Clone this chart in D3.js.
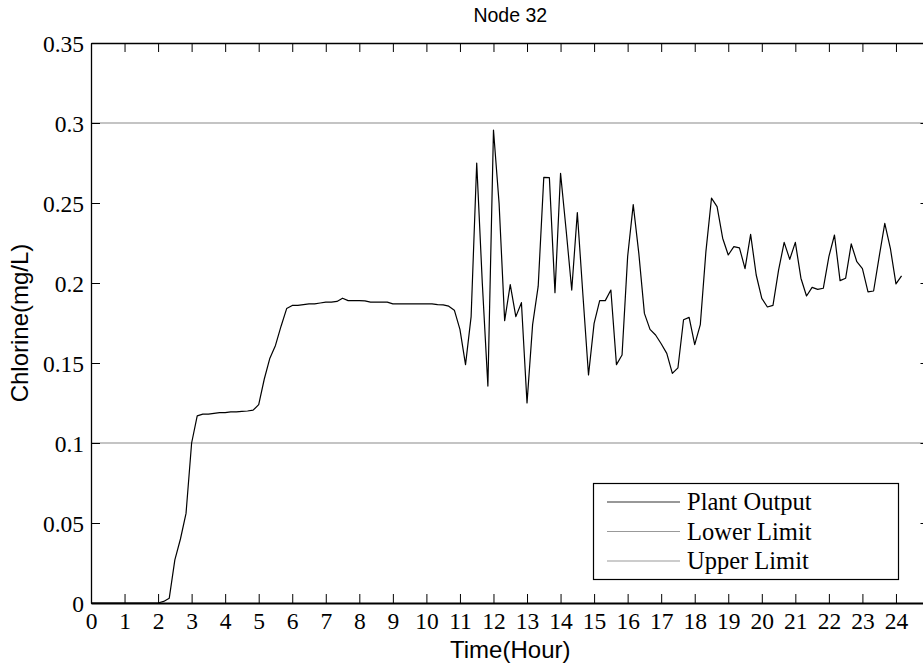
<!DOCTYPE html>
<html>
<head>
<meta charset="utf-8">
<script src="https://cdn.jsdelivr.net/npm/d3@7"></script>
<style>
  html, body { margin: 0; padding: 0; background: #fff; }
  svg { display: block; }
</style>
</head>
<body>
<svg id="chart" width="923" height="666"></svg>
<script>
// ---- data ----
const title = "Node 32";
const xLabel = "Time(Hour)";
const yLabel = "Chlorine(mg/L)";
const stepHours = 1 / 6; // 10-minute samples
const plantOutput = [
  0, 0, 0, 0, 0, 0, 0, 0, 0, 0, 0, 0, 0,
  0.001, 0.003, 0.027, 0.040, 0.056, 0.100, 0.117, 0.118, 0.118, 0.1185, 0.119,
  0.119, 0.1195, 0.1195, 0.1198, 0.120, 0.1205, 0.124, 0.140, 0.153, 0.161, 0.173,
  0.184, 0.186, 0.186, 0.1865, 0.187, 0.187, 0.1875, 0.188, 0.188, 0.1885, 0.1905,
  0.189, 0.189, 0.189, 0.1888, 0.188, 0.188, 0.188, 0.188, 0.187, 0.187, 0.187,
  0.187, 0.187, 0.187, 0.187, 0.187, 0.1865, 0.1863, 0.1855, 0.183, 0.171, 0.149,
  0.179, 0.275, 0.200, 0.1356, 0.2956, 0.250, 0.1765, 0.199, 0.179, 0.1877, 0.125,
  0.174, 0.198, 0.266, 0.2658, 0.194, 0.2685, 0.233, 0.1956, 0.244, 0.1925, 0.1425,
  0.1748, 0.189, 0.189, 0.1956, 0.149, 0.155, 0.2165, 0.249, 0.2185, 0.181, 0.171,
  0.1675, 0.162, 0.156, 0.1435, 0.147, 0.177, 0.1785, 0.1615, 0.174, 0.2196, 0.253,
  0.2477, 0.228, 0.2175, 0.2227, 0.222, 0.209, 0.2304, 0.205, 0.1904, 0.185, 0.186,
  0.208, 0.2254, 0.2148, 0.2254, 0.203, 0.1919, 0.1973, 0.196, 0.1967, 0.2165, 0.230,
  0.2015, 0.203, 0.2244, 0.2133, 0.209, 0.1944, 0.195, 0.2165, 0.2373, 0.2217, 0.1994,
  0.2044
];
const lowerLimit = 0.1;
const upperLimit = 0.3;
const xTicks = [0,1,2,3,4,5,6,7,8,9,10,11,12,13,14,15,16,17,18,19,20,21,22,23,24];
const yTicks = [0, 0.05, 0.1, 0.15, 0.2, 0.25, 0.3, 0.35];
const legendLabels = ["Plant Output", "Lower Limit", "Upper Limit"];

(function () {
// ---- layout ----
const svg = d3.select("#chart");
const L = 91, R = 929.5, T = 43, B = 603;
const x = d3.scaleLinear().domain([0, 25]).range([L, R]);
const y = d3.scaleLinear().domain([0, 0.35]).range([B, T]);

const serif = "'Liberation Serif', 'Times New Roman', serif";
const sans = "'Liberation Sans', Arial, sans-serif";

// limit lines
const limits = [lowerLimit, upperLimit];
svg.selectAll("line.limit").data(limits).enter().append("line")
  .attr("class", "limit")
  .attr("x1", x(0)).attr("x2", x(25))
  .attr("y1", d => y(d)).attr("y2", d => y(d))
  .attr("stroke", "#8a8a8a").attr("stroke-width", 1.2);

// series line
const pts = plantOutput.map((v, i) => [i * stepHours, v]);
const line = d3.line().x(d => x(d[0])).y(d => y(d[1]));
svg.append("path").datum(pts)
  .attr("d", line)
  .attr("fill", "none")
  .attr("stroke", "#000")
  .attr("stroke-width", 1.2)
  .attr("stroke-linejoin", "round");

// axes
const tickLen = 9;
const gBottom = svg.append("g").attr("transform", `translate(0,${B})`)
  .call(d3.axisBottom(x).tickValues(xTicks).tickSizeInner(-tickLen).tickSizeOuter(0).tickPadding(10).tickFormat(d3.format("d")));
const gTop = svg.append("g").attr("transform", `translate(0,${T})`)
  .call(d3.axisTop(x).tickValues(xTicks).tickSizeInner(-tickLen).tickSizeOuter(0).tickFormat(""));
const gLeft = svg.append("g").attr("transform", `translate(${L},0)`)
  .call(d3.axisLeft(y).tickValues(yTicks).tickSizeInner(-tickLen).tickSizeOuter(0).tickPadding(7).tickFormat(d => d === 0 ? "0" : String(+d.toFixed(2))));
const gRight = svg.append("g").attr("transform", `translate(${R},0)`)
  .call(d3.axisRight(y).tickValues(yTicks).tickSizeInner(-tickLen).tickSizeOuter(0).tickFormat(""));

[gBottom, gTop, gLeft, gRight].forEach(g => {
  g.selectAll("path.domain").attr("stroke", "#000");
  g.selectAll(".tick line").attr("stroke", "#000").attr("stroke-width", 1);
  g.selectAll("text").attr("font-family", serif).attr("font-size", 23.5).attr("fill", "#000");
});
gBottom.select("path.domain").attr("stroke-width", 2.2);
gTop.select("path.domain").attr("stroke-width", 1.5);
gLeft.select("path.domain").attr("stroke-width", 1.3);
gBottom.selectAll(".tick text").attr("dy", "0.66em");
gLeft.selectAll(".tick text").attr("dy", "0.38em");

// title and axis labels
svg.append("text").attr("x", (L + R) / 2).attr("y", 22).attr("text-anchor", "middle")
  .attr("font-family", sans).attr("font-size", 19.5).text(title);
svg.append("text").attr("x", (L + R) / 2).attr("y", 658).attr("text-anchor", "middle")
  .attr("font-family", sans).attr("font-size", 24).text(xLabel);
svg.append("text").attr("transform", `translate(28,${(T + B) / 2}) rotate(-90)`)
  .attr("text-anchor", "middle")
  .attr("font-family", sans).attr("font-size", 24).text(yLabel);

// legend
const lg = svg.append("g");
lg.append("rect").attr("x", 593.5).attr("y", 483.5).attr("width", 305).attr("height", 96)
  .attr("fill", "#fff").attr("stroke", "#000").attr("stroke-width", 1.2);
const legendColors = ["#333", "#999", "#999"];
const rowY = d3.scalePoint().domain(legendLabels).range([502, 561]);
legendLabels.forEach((lab, i) => {
  lg.append("line").attr("x1", 607).attr("x2", 680)
    .attr("y1", rowY(lab)).attr("y2", rowY(lab))
    .attr("stroke", legendColors[i]).attr("stroke-width", 1.2);
  lg.append("text").attr("x", 687).attr("y", rowY(lab)).attr("dy", "0.33em")
    .attr("font-family", serif).attr("font-size", 24.5).text(lab);
});
})();
</script>
</body>
</html>
